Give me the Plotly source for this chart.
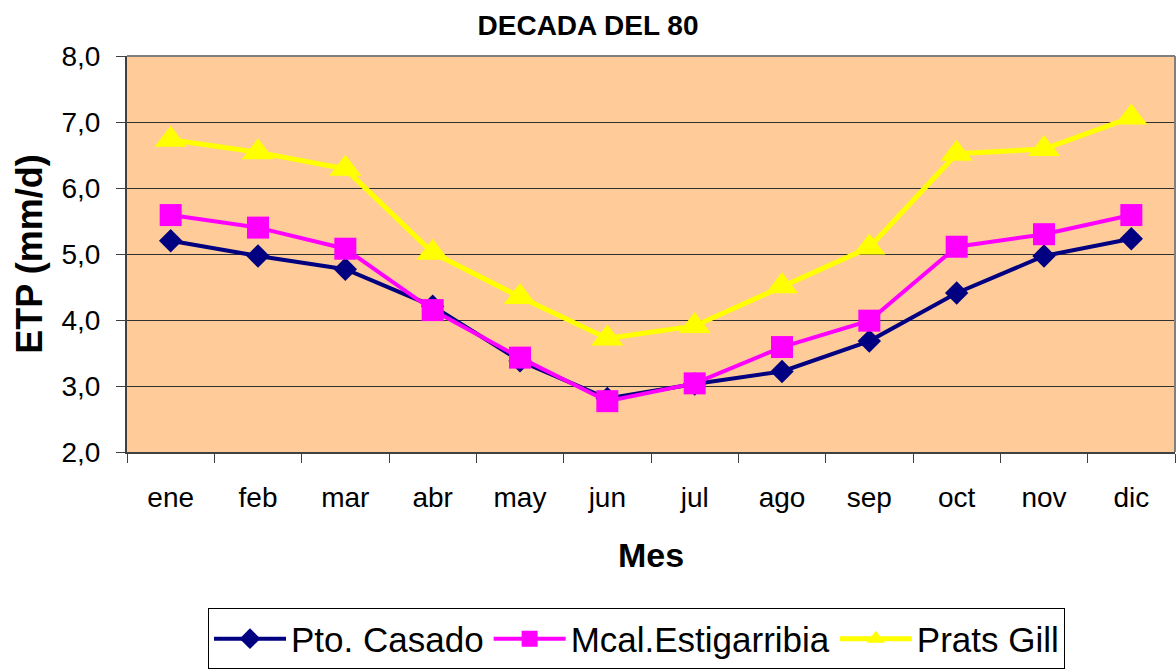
import plotly.graph_objects as go

# Monthly ETP (mm/d) for the 1980s at three stations
meses = ["ene", "feb", "mar", "abr", "may", "jun", "jul", "ago", "sep", "oct", "nov", "dic"]
pto_casado = [5.20, 4.97, 4.77, 4.21, 3.38, 2.81, 3.03, 3.22, 3.68, 4.41, 4.97, 5.23]
mcal_estigarribia = [5.59, 5.40, 5.08, 4.15, 3.43, 2.77, 3.04, 3.59, 3.99, 5.11, 5.30, 5.59]
prats_gill = [6.73, 6.54, 6.29, 5.02, 4.35, 3.72, 3.91, 4.51, 5.10, 6.52, 6.59, 7.07]
y_ticks = [2, 3, 4, 5, 6, 7, 8]

FONT = "Liberation Sans, Arial, sans-serif"

fig = go.Figure()

fig.add_trace(go.Scatter(
    x=meses, y=pto_casado, name="Pto. Casado", mode="lines+markers",
    line=dict(color="#000080", width=4),
    marker=dict(symbol="diamond", size=18, color="#000080"),
))
fig.add_trace(go.Scatter(
    x=meses, y=mcal_estigarribia, name="Mcal.Estigarribia", mode="lines+markers",
    line=dict(color="#FF00FF", width=4),
    marker=dict(symbol="square", size=22, color="#FF00FF"),
))
fig.add_trace(go.Scatter(
    x=meses, y=prats_gill, name="Prats Gill", mode="lines+markers",
    line=dict(color="#FFFF00", width=5),
    marker=dict(symbol="triangle-up", size=28, color="#FFFF00"),
))

fig.update_layout(
    width=1176, height=670,
    margin=dict(l=127, r=1, t=56, b=214),
    paper_bgcolor="white",
    plot_bgcolor="#FFCC99",
    separators=",.",
    font=dict(family=FONT, color="black"),
    title=dict(
        text="<b>DECADA DEL 80</b>",
        font=dict(size=28, family=FONT, color="black"),
        x=0.5, xref="container", xanchor="center",
        y=1 - 25 / 670, yref="container", yanchor="middle",
    ),
    showlegend=True,
    legend=dict(
        orientation="h",
        x=(208 - 127) / 1048, xanchor="left",
        y=-(614 - 456) / 400, yanchor="top",
        font=dict(size=35, family=FONT, color="black"),
        bordercolor="black", borderwidth=1,
        bgcolor="white",
        itemwidth=72,
        tracegroupgap=0,
    ),
)

fig.update_xaxes(
    type="category",
    tickson="boundaries",
    ticks="outside", ticklen=9, tickcolor="#404040", tickwidth=1,
    showline=True, linecolor="#404040", linewidth=2,
    showgrid=False,
    tickfont=dict(size=28, family=FONT, color="black"),
    ticklabelstandoff=19,
    title=dict(text="<b>Mes</b>", font=dict(size=34, family=FONT, color="black"), standoff=32),
    range=[-0.5, 11.5],
)

fig.update_yaxes(
    range=[2, 8],
    tickvals=y_ticks,
    tickformat=".1f",
    ticks="outside", ticklen=9, tickcolor="#404040", tickwidth=1,
    showline=True, linecolor="#404040", linewidth=2,
    showgrid=True, gridcolor="#303030", gridwidth=1,
    zeroline=False,
    tickfont=dict(size=28, family=FONT, color="black"),
    ticklabelstandoff=10,
    title=dict(text="<b>ETP (mm/d)</b>", font=dict(size=36, family=FONT, color="black"), standoff=8),
)

# gray frame on the top and right edges of the plotting area
fig.add_shape(type="line", xref="paper", yref="paper", x0=0, x1=1, y0=1, y1=1,
              line=dict(color="#808080", width=2), layer="above")
fig.add_shape(type="line", xref="paper", yref="paper", x0=1, x1=1, y0=0, y1=1,
              line=dict(color="#808080", width=2), layer="above")

fig.write_html("out.html")
